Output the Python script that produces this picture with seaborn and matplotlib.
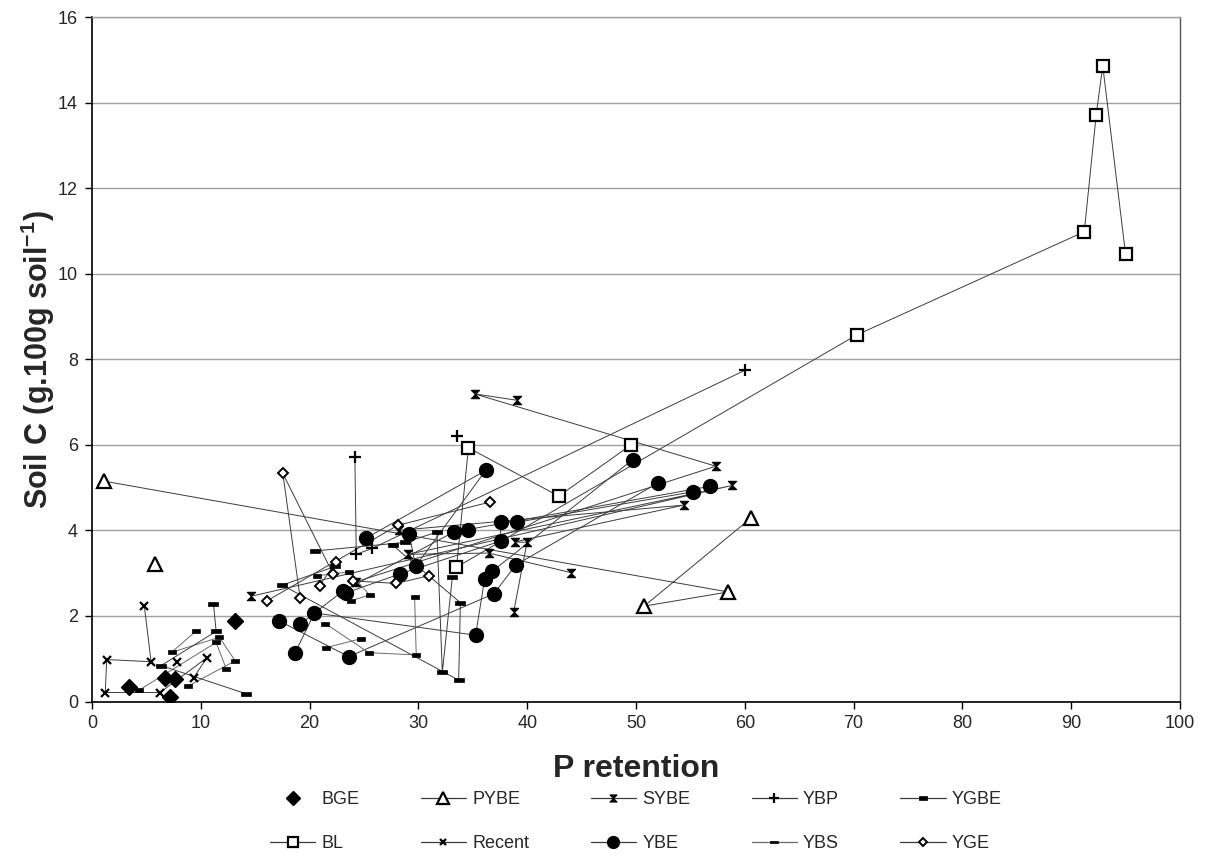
import numpy as np
import pandas as pd
import matplotlib
matplotlib.use("Agg")
import matplotlib.pyplot as plt
from matplotlib.path import Path
from matplotlib.lines import Line2D
import seaborn as sns

# ---------------- data (P retention, Soil C, profile id) ----------------
BGE_P = [3.37, 6.74, 7.66, 7.14, 13.16]
BGE_C = [0.34, 0.54, 0.53, 0.11, 1.88]
BGE_ID = [1, 2, 3, 4, 5]

BL_P = [49.5, 42.9, 34.6, 33.5, 70.3, 91.2, 92.3, 92.9, 95.0]
BL_C = [5.99, 4.80, 5.93, 3.14, 8.57, 10.98, 13.72, 14.86, 10.45]
BL_ID = [1, 1, 1, 1, 1, 1, 1, 1, 1]

PYBE_P = [5.82, 1.13, 58.47, 50.75, 60.53]
PYBE_C = [3.22, 5.15, 2.56, 2.23, 4.28]
PYBE_ID = [1, 2, 2, 2, 2]

RECENT_P = [4.81, 5.43, 1.35, 1.22, 6.25, 10.55, 9.35, 7.82]
RECENT_C = [2.23, 0.93, 0.98, 0.21, 0.21, 1.02, 0.56, 0.93]
RECENT_ID = [1, 1, 1, 1, 1, 1, 1, 2]

SYBE_P = [39.1, 35.17, 57.34, 24.3, 14.63, 58.84, 29.04, 36.46, 44.07, 28.2, 54.37, 38.85, 39.98, 38.76]
SYBE_C = [7.04, 7.19, 5.50, 2.80, 2.46, 5.05, 3.44, 3.47, 3.01, 4.00, 4.59, 3.73, 3.72, 2.10]
SYBE_ID = [1, 1, 1, 1, 2, 2, 2, 2, 2, 3, 3, 3, 3, 3]

YBE_P = [18.67, 20.45, 35.26, 36.09, 36.77, 49.68,
         17.23, 23.6, 36.95, 38.94, 52.03,
         19.14, 23.05, 33.24, 34.55, 56.8,
         23.37, 28.27, 37.56, 37.56, 39.06, 55.2,
         25.2, 36.18, 29.74, 29.16]
YBE_C = [1.14, 2.07, 1.55, 2.87, 3.04, 5.65,
         1.88, 1.05, 2.52, 3.19, 5.11,
         1.81, 2.58, 3.96, 4.02, 5.03,
         2.54, 2.98, 3.75, 4.19, 4.19, 4.90,
         3.82, 5.40, 3.16, 3.92]
YBE_ID = [1, 1, 1, 1, 1, 1,
          2, 2, 2, 2, 2,
          3, 3, 3, 3, 3,
          4, 4, 4, 4, 4, 4,
          5, 5, 5, 5]

YBP_P = [33.54, 24.16, 24.29, 25.76, 60.0]
YBP_C = [6.20, 5.71, 3.44, 3.58, 7.74]
YBP_ID = [1, 2, 2, 2, 2]

YBS_P = [9.57, 7.32, 11.71, 13.16, 8.83, 4.35, 11.41, 12.33,
         20.66, 23.61, 25.51, 23.76, 21.46, 25.45, 29.8, 29.65, 21.53, 24.75]
YBS_C = [1.65, 1.15, 1.50, 0.95, 0.36, 0.27, 1.38, 0.77,
         2.94, 3.03, 2.49, 2.35, 1.82, 1.14, 1.09, 2.45, 1.26, 1.47]
YBS_ID = [1, 1, 1, 1, 1, 2, 2, 2,
          3, 3, 3, 3, 4, 4, 4, 4, 5, 5]

YGBE_P = [11.16, 11.41, 6.35, 14.17, 20.54, 28.8, 31.7, 32.2, 33.12,
          22.38, 17.48, 33.7, 33.86, 27.65]
YGBE_C = [2.29, 1.64, 0.84, 0.18, 3.52, 3.72, 3.96, 0.68, 2.91,
          3.16, 2.72, 0.50, 2.31, 3.65]
YGBE_ID = [1, 1, 1, 1, 2, 2, 2, 2, 2, 3, 3, 3, 3, 3]

YGE_P = [16.06, 28.12, 36.55, 19.13, 17.54, 22.14, 22.45, 20.91, 23.98, 27.97, 30.97]
YGE_C = [2.35, 4.12, 4.66, 2.42, 5.33, 2.99, 3.26, 2.71, 2.82, 2.76, 2.94]
YGE_ID = [1, 1, 1, 2, 2, 2, 2, 2, 3, 3, 3]

X_TICKS = list(range(0, 101, 10))
Y_TICKS = list(range(0, 17, 2))

# ---------------- style ----------------
sns.set_style("white")
plt.rcParams["font.family"] = ["Liberation Sans", "DejaVu Sans"]
plt.rcParams["mathtext.fontset"] = "custom"
plt.rcParams["mathtext.rm"] = "Liberation Sans"
plt.rcParams["mathtext.bf"] = "Liberation Sans:bold"

hourglass = Path([(-1, 1), (1, 1), (0, 0), (1, -1), (-1, -1), (0, 0), (-1, 1)],
                 [Path.MOVETO, Path.LINETO, Path.LINETO, Path.LINETO,
                  Path.LINETO, Path.LINETO, Path.CLOSEPOLY])
bar_big = Path([(-1, -0.38), (1, -0.38), (1, 0.38), (-1, 0.38), (-1, -0.38)],
               [Path.MOVETO, Path.LINETO, Path.LINETO, Path.LINETO, Path.CLOSEPOLY])
bar_small = bar_big

LINE_COL = "#3c3c3c"

series = [
    # name, P, C, ID, marker, ms, face, mew, draw_line, line colour
    ("BGE", BGE_P, BGE_C, BGE_ID, "D", 8, "k", 1.0, False, LINE_COL),
    ("BL", BL_P, BL_C, BL_ID, "s", 8.5, "w", 1.6, True, LINE_COL),
    ("PYBE", PYBE_P, PYBE_C, PYBE_ID, "^", 10, "w", 1.6, True, LINE_COL),
    ("Recent", RECENT_P, RECENT_C, RECENT_ID, "x", 5.5, "k", 1.6, True, LINE_COL),
    ("SYBE", SYBE_P, SYBE_C, SYBE_ID, hourglass, 6, "k", 0.8, True, LINE_COL),
    ("YBE", YBE_P, YBE_C, YBE_ID, "o", 10, "k", 1.0, True, LINE_COL),
    ("YBP", YBP_P, YBP_C, YBP_ID, "+", 9, "k", 1.6, True, LINE_COL),
    ("YBS", YBS_P, YBS_C, YBS_ID, bar_small, 6, "k", 0.5, True, "#6a6a6a"),
    ("YGBE", YGBE_P, YGBE_C, YGBE_ID, bar_big, 7.5, "k", 0.5, True, LINE_COL),
    ("YGE", YGE_P, YGE_C, YGE_ID, "D", 5, "w", 1.4, True, LINE_COL),
]

fig = plt.figure(figsize=(12.07, 8.56), dpi=100)
ax = fig.add_axes([92 / 1207, 1 - 701.5 / 856, (1180 - 92) / 1207, (701.5 - 17) / 856])

# lines first
for name, P, C, ID, mk, ms, face, mew, draw_line, lc in series:
    if not draw_line:
        continue
    df = pd.DataFrame({"P": P, "C": C, "id": ID})
    sns.lineplot(data=df, x="P", y="C", units="id", estimator=None, sort=False,
                 color=lc, linewidth=0.7, ax=ax, legend=False, zorder=2)

# markers on top
for name, P, C, ID, mk, ms, face, mew, draw_line, lc in series:
    df = pd.DataFrame({"P": P, "C": C, "id": ID})
    sns.lineplot(data=df, x="P", y="C", units="id", estimator=None, sort=False,
                 linestyle="", marker=mk, markersize=ms, markerfacecolor=face,
                 markeredgecolor="k", markeredgewidth=mew, color="k",
                 ax=ax, legend=False, zorder=3)

ax.set_xlim(0, 100)
ax.set_ylim(0, 16)
ax.set_xticks(X_TICKS)
ax.set_yticks(Y_TICKS)
ax.set_xticklabels([str(t) for t in X_TICKS], fontsize=13)
ax.set_yticklabels([str(t) for t in Y_TICKS], fontsize=13)
ax.yaxis.grid(True, color="#a0a0a0", linewidth=1.0)
ax.xaxis.grid(False)
ax.set_axisbelow(True)
ax.tick_params(axis="both", direction="out", length=5, width=1, color="k", pad=5,
               bottom=True, left=True)
for s in ["left", "bottom"]:
    ax.spines[s].set_color("k")
    ax.spines[s].set_linewidth(1.2)
ax.spines["right"].set_color("#555555")
ax.spines["right"].set_linewidth(1.0)
ax.spines["top"].set_color("#a0a0a0")
ax.spines["top"].set_linewidth(1.0)

ax.set_xlabel("P retention", fontsize=23, fontweight="bold")
ax.set_ylabel("Soil C (g.100g soil$^{\\mathbf{-1}}$)", fontsize=22, fontweight="bold")
ax.xaxis.set_label_coords(0.5, -0.076)
ax.yaxis.set_label_coords(-0.032, 0.5)

# legend (filled column-wise to reproduce row order)
handles = {}
for name, P, C, ID, mk, ms, face, mew, draw_line, lc in series:
    handles[name] = Line2D([], [], color=lc if draw_line else "none", linewidth=0.9,
                           marker=mk, markersize=ms * 0.85, markerfacecolor=face,
                           markeredgecolor="k", markeredgewidth=mew)
order = ["BGE", "BL", "PYBE", "Recent", "SYBE", "YBE", "YBP", "YBS", "YGBE", "YGE"]
ax.legend([handles[n] for n in order], order, ncol=5, loc="upper center",
          bbox_to_anchor=(0.5, -0.107), frameon=False, fontsize=13,
          handlelength=2.5, handletextpad=0.35, columnspacing=3.4, labelspacing=1.5)

fig.savefig("out.png", dpi=100)
